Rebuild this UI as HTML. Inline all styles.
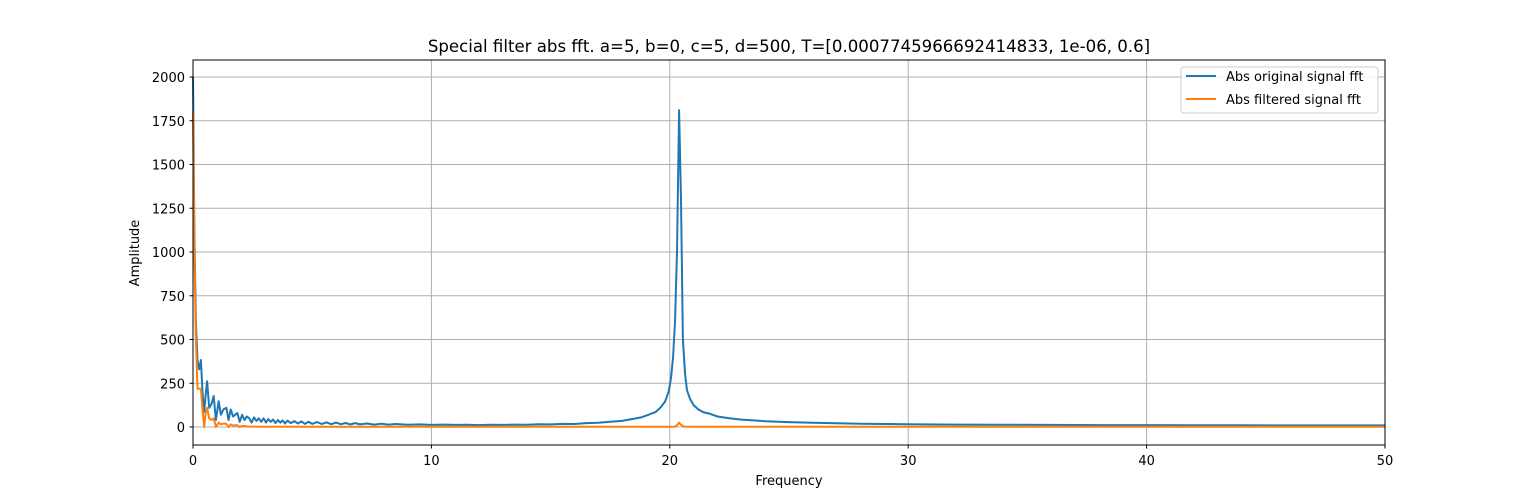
<!DOCTYPE html>
<html><head><meta charset="utf-8">
<style>
body{margin:0;background:#fff;}
svg{display:block;font-family:"DejaVu Sans","Liberation Sans",sans-serif;}
</style></head>
<body>
<svg id="chart" width="1539" height="500" viewBox="0 0 1539 500">
<rect width="1539" height="500" fill="#fff"/>
<text x="789" y="52" text-anchor="middle" font-size="16.6" fill="#000">Special filter abs fft. a=5, b=0, c=5, d=500, T=[0.0007745966692414833, 1e-06, 0.6]</text>
<g id="grid"></g>
<g id="series"></g>
<rect x="193" y="60" width="1192" height="385" fill="none" stroke="#000" stroke-width="1"/>
<g id="ticks"></g>
<text x="789" y="485" text-anchor="middle" font-size="13">Frequency</text>
<text transform="translate(139,253) rotate(-90)" text-anchor="middle" font-size="13">Amplitude</text>
<g>
<rect x="1181" y="67" width="197" height="46" rx="3" fill="#fff" fill-opacity="0.8" stroke="#ccc"/>
<line x1="1186" y1="76" x2="1216" y2="76" stroke="#1f77b4" stroke-width="2"/>
<text x="1226" y="81" font-size="13">Abs original signal fft</text>
<line x1="1186" y1="99" x2="1216" y2="99" stroke="#ff7f0e" stroke-width="2"/>
<text x="1226" y="104" font-size="13">Abs filtered signal fft</text>
</g>
</svg>
<script>
const xTicks = [0, 10, 20, 30, 40, 50];
const yTicks = [0, 250, 500, 750, 1000, 1250, 1500, 1750, 2000];
const originalSeries = [
[0,2000],[0.06,1100],[0.12,600],[0.19,383],[0.26,330],[0.33,383],[0.4,200],[0.47,86],[0.53,180],[0.59,261],
[0.68,110],[0.77,130],[0.87,177],[0.96,40],[1.08,147],[1.17,70],[1.27,100],[1.4,110],[1.49,40],[1.58,100],
[1.68,60],[1.77,70],[1.86,80],[1.96,30],[2.06,70],[2.16,40],[2.26,60],[2.36,50],[2.46,25],[2.56,55],
[2.66,35],[2.76,50],[2.86,30],[2.96,50],[3.06,25],[3.16,45],[3.26,30],[3.36,42],[3.46,22],[3.56,40],
[3.66,25],[3.76,38],[3.86,20],[3.96,36],[4.1,22],[4.25,34],[4.4,20],[4.55,32],[4.7,18],[4.85,30],
[5,18],[5.2,28],[5.4,17],[5.6,26],[5.8,16],[6,25],[6.2,16],[6.4,23],[6.6,15],[6.8,22],
[7,15],[7.3,20],[7.6,14],[7.9,19],[8.2,14],[8.5,17],[9,13],[9.5,15],[10,12],[10.5,14],
[11,12],[11.5,13],[12,11],[12.5,13],[13,12],[13.5,14],[14,13],[14.5,16],[15,15],[15.5,18],
[16,17],[16.5,22],[17,24],[17.5,30],[18,35],[18.4,45],[18.8,55],[19.1,70],[19.4,85],[19.6,110],
[19.8,145],[19.95,200],[20.05,280],[20.14,400],[20.22,600],[20.3,1000],[20.39,1810],[20.47,1300],[20.55,500],[20.64,300],
[20.72,210],[20.85,160],[21,125],[21.2,100],[21.4,85],[21.7,75],[22,60],[22.5,50],[23,42],[23.5,38],
[24,33],[25,28],[26,24],[27,21],[28,19],[29,17],[30,16],[32,14],[34,13],[36,12],
[38,11],[40,11],[42,10],[44,10],[46,9],[48,9],[50,9]
];
const filteredSeries = [
[0,1800],[0.06,1000],[0.12,500],[0.19,219],[0.26,219],[0.33,219],[0.4,100],[0.47,0],[0.53,80],[0.59,110],
[0.68,50],[0.77,40],[0.87,50],[0.96,0],[1.08,25],[1.17,15],[1.27,20],[1.4,18],[1.49,0],[1.58,15],
[1.68,8],[1.77,10],[1.86,10],[1.96,0],[2.06,6],[2.3,3],[2.6,2],[3,1],[5,1],[10,1],
[15,1],[20,1],[20.2,2],[20.3,10],[20.39,25],[20.47,12],[20.6,2],[21,1],[25,1],[30,1],[40,1],[50,1]
];
const X0=193, X1=1385, Y0=427, YPX=0.175;
function xs(v){return X0+(v-0)*(X1-X0)/50;}
function ys(v){return Y0-v*YPX;}
const NS="http://www.w3.org/2000/svg";
const grid=document.getElementById('grid'), ticks=document.getElementById('ticks'), ser=document.getElementById('series');
function mk(tag,attrs,parent){const e=document.createElementNS(NS,tag);for(const k in attrs)e.setAttribute(k,attrs[k]);parent.appendChild(e);return e;}
xTicks.forEach(t=>{
  const x=xs(t);
  const g=mk('line',{x1:x,y1:60,x2:x,y2:445,stroke:'#b0b0b0','stroke-width':1},grid);
  
  
  const tk=mk('line',{x1:x,y1:445,x2:x,y2:448.5,stroke:'#000'},ticks);
  
  
  const l=mk('text',{x:x,y:465,'text-anchor':'middle','font-size':13},ticks);
  l.textContent=t;
  
  
});
yTicks.forEach(t=>{
  const y=ys(t);
  const g=mk('line',{x1:193,y1:y,x2:1385,y2:y,stroke:'#b0b0b0','stroke-width':1},grid);
  
  
  const tk=mk('line',{x1:189.5,y1:y,x2:193,y2:y,stroke:'#000'},ticks);
  
  
  const l=mk('text',{x:185,y:y+5,'text-anchor':'end','font-size':13},ticks);
  l.textContent=t;
  
  
});
function path(data){return data.map((p,i)=>(i?'L':'M')+xs(p[0]).toFixed(1)+','+ys(p[1]).toFixed(1)).join('');}
const p1=mk('path',{d:path(originalSeries),fill:'none',stroke:'#1f77b4','stroke-width':2,'stroke-linejoin':'round'},ser);


const p2=mk('path',{d:path(filteredSeries),fill:'none',stroke:'#ff7f0e','stroke-width':2,'stroke-linejoin':'round'},ser);


</script>
</body></html>
